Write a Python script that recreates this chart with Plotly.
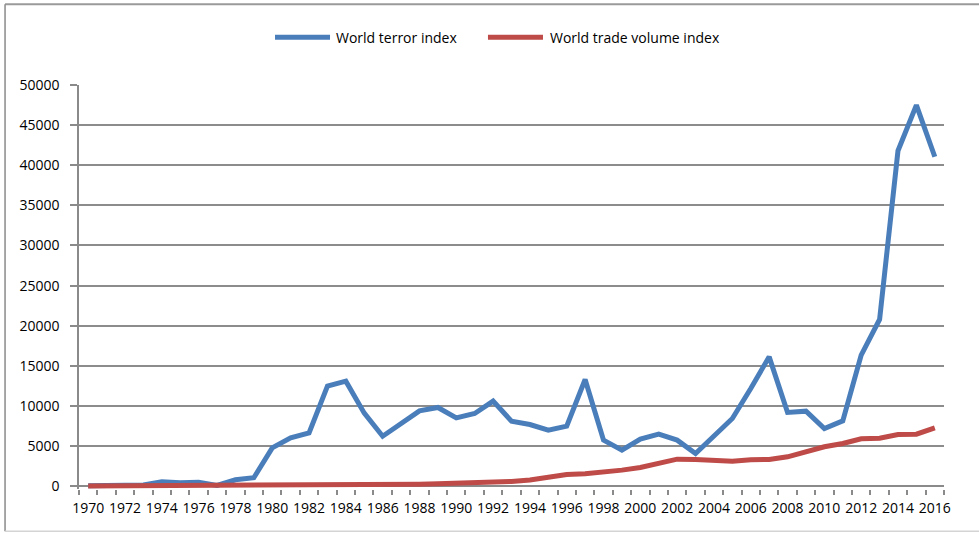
import plotly.graph_objects as go

# Annual series, 1970-2016
years = list(range(1970, 2017))

terror_index = [
    50, 100, 200, 150, 550, 420, 500, 100, 800, 1050,
    4780, 6030, 6650, 12470, 13090, 9100, 6230, 7800, 9390, 9810,
    8520, 9060, 10600, 8100, 7690, 6980, 7480, 13300, 5740, 4490,
    5860, 6480, 5740, 4080, 6360, 8440, 12180, 16120, 9190, 9350,
    7190, 8150, 16330, 20780, 41810, 47500, 41060,
]

trade_volume_index = [
    30, 35, 40, 45, 50, 50, 55, 60, 65, 70,
    80, 90, 100, 110, 130, 150, 180, 210, 250, 300,
    360, 420, 490, 600, 780, 1080, 1450, 1540, 1750, 2000,
    2330, 2830, 3370, 3320, 3160, 3100, 3300, 3320, 3660, 4320,
    4910, 5320, 5900, 5980, 6440, 6480, 7270,
]

series_names = ["World terror index", "World trade volume index"]
series_colors = ["#4a7ebb", "#be4b48"]

y_ticks = list(range(0, 50001, 5000))
y_tick_labels = [str(v) for v in y_ticks]
x_label_years = years[::2]
x_tick_labels = [str(y) for y in x_label_years]

FONT = "Open Sans"
TICK_SIZE = 14

fig = go.Figure()
for name, values, color in zip(series_names, [terror_index, trade_volume_index], series_colors):
    fig.add_trace(go.Scatter(
        x=years, y=values, name=name, mode="lines",
        line=dict(color=color, width=5),
        showlegend=False,
    ))

# Legend drawn as line swatches with text labels above the plot
legend_items = [
    (0.2266, 0.2902, 0.2948),
    (0.4728, 0.5364, 0.5422),
]
shapes = []
annotations = []
for (x0, x1, xt), name, color in zip(legend_items, series_names, series_colors):
    shapes.append(dict(type="line", xref="paper", yref="paper",
                       x0=x0, x1=x1, y0=1.1183, y1=1.1183,
                       line=dict(color=color, width=5)))
    annotations.append(dict(xref="paper", yref="paper", x=xt, y=1.1183,
                            text=name, showarrow=False, xanchor="left", yanchor="middle",
                            font=dict(family=FONT, size=14, color="#000000")))

# Chart frame
shapes += [
    dict(type="line", xref="paper", yref="paper", x0=-0.0855, x1=1.06, y0=1.2, y1=1.2,
         line=dict(color="#9a9a9a", width=2)),
    dict(type="line", xref="paper", yref="paper", x0=-0.0855, x1=-0.0855, y0=1.2, y1=-0.1045,
         line=dict(color="#8a8a8a", width=1.5)),
    dict(type="line", xref="paper", yref="paper", x0=-0.0855, x1=1.06, y0=-0.1045, y1=-0.1045,
         line=dict(color="#d4d4d4", width=1.5)),
]

fig.update_layout(
    width=979, height=533,
    margin=dict(l=79, r=35, t=85, b=44),
    paper_bgcolor="white", plot_bgcolor="white",
    font=dict(family=FONT, size=TICK_SIZE, color="#000000"),
    shapes=shapes,
    annotations=annotations,
    xaxis=dict(
        range=[1969.5, 2016.5],
        tickmode="array", tickvals=x_label_years, ticktext=x_tick_labels,
        ticks="", showgrid=False, showline=False, zeroline=False,
        ticklabelstandoff=9,
        tickfont=dict(family=FONT, size=TICK_SIZE, color="#000000"),
        minor=dict(tickmode="linear", tick0=1969.5, dtick=1, ticks="outside",
                   ticklen=5, tickcolor="#8a8a8a", tickwidth=1.5, showgrid=False),
    ),
    yaxis=dict(
        range=[-350, 50000],
        tickmode="array", tickvals=y_ticks, ticktext=y_tick_labels,
        ticks="outside", ticklen=7, tickcolor="#8a8a8a", tickwidth=1.5,
        showgrid=True, gridcolor="#8c8c8c", gridwidth=1.5,
        zeroline=True, zerolinecolor="#8a8a8a", zerolinewidth=1.5,
        showline=True, linecolor="#8a8a8a", linewidth=1.5,
        ticklabelstandoff=8,
        tickfont=dict(family=FONT, size=TICK_SIZE, color="#000000"),
    ),
)

fig.write_html("out.html")
